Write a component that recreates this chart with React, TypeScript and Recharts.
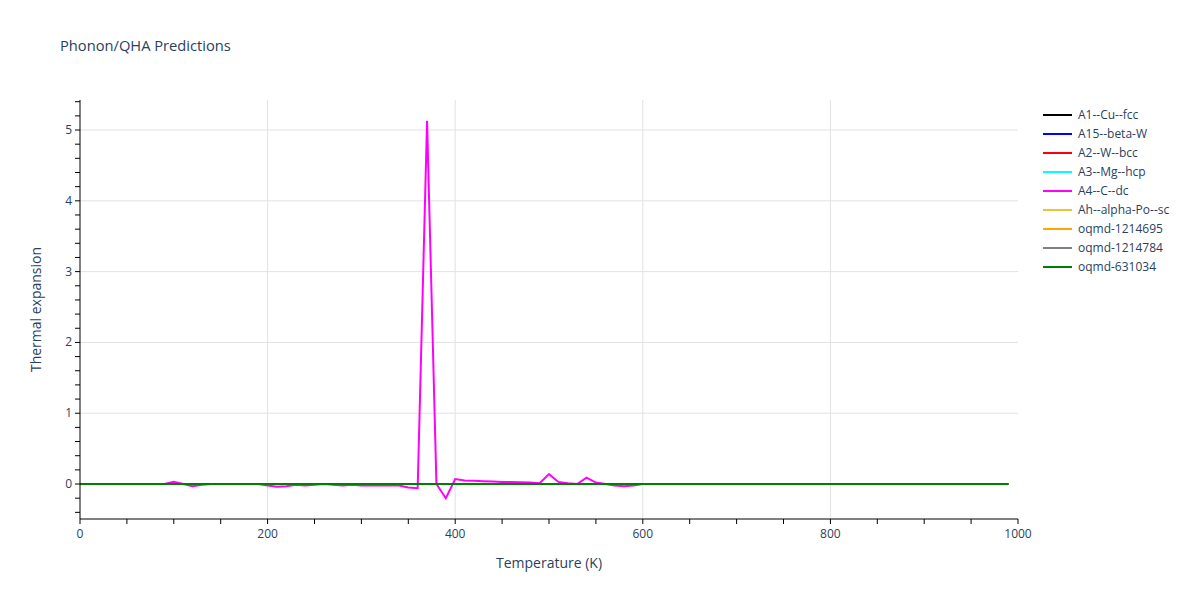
import React from 'react';
import { LineChart, Line, XAxis, YAxis, CartesianGrid } from 'recharts';

// temperature grid (K)
const temps = [
  0, 10, 20, 30, 40, 50, 60, 70, 80, 90,
  100, 110, 120, 130, 140, 150, 160, 170, 180, 190,
  200, 210, 220, 230, 240, 250, 260, 270, 280, 290,
  300, 310, 320, 330, 340, 350, 360, 370, 380, 390,
  400, 410, 420, 430, 440, 450, 460, 470, 480, 490,
  500, 510, 520, 530, 540, 550, 560, 570, 580, 590,
  600, 610, 620, 630, 640, 650, 660, 670, 680, 690,
  700, 710, 720, 730, 740, 750, 760, 770, 780, 790,
  800, 810, 820, 830, 840, 850, 860, 870, 880, 890,
  900, 910, 920, 930, 940, 950, 960, 970, 980, 990,
];

// all structures except A4 sit flat on zero
const flat = [
  0, 0, 0, 0, 0, 0, 0, 0, 0, 0,
  0, 0, 0, 0, 0, 0, 0, 0, 0, 0,
  0, 0, 0, 0, 0, 0, 0, 0, 0, 0,
  0, 0, 0, 0, 0, 0, 0, 0, 0, 0,
  0, 0, 0, 0, 0, 0, 0, 0, 0, 0,
  0, 0, 0, 0, 0, 0, 0, 0, 0, 0,
  0, 0, 0, 0, 0, 0, 0, 0, 0, 0,
  0, 0, 0, 0, 0, 0, 0, 0, 0, 0,
  0, 0, 0, 0, 0, 0, 0, 0, 0, 0,
  0, 0, 0, 0, 0, 0, 0, 0, 0, 0,
];

const a4Values = [
  0, 0, 0, 0, 0, 0, 0, 0, 0, 0,
  0.03, 0, -0.03, -0.01, 0, 0, 0, 0, 0, 0,
  -0.02, -0.04, -0.03, -0.01, -0.02, -0.01, 0, -0.01, -0.02, -0.01,
  -0.02, -0.02, -0.02, -0.02, -0.02, -0.05, -0.06, 5.13, 0, -0.2,
  0.07, 0.05, 0.045, 0.04, 0.035, 0.03, 0.03, 0.025, 0.02, 0.01,
  0.14, 0.03, 0.01, 0, 0.09, 0.02, 0, -0.02, -0.03, -0.02,
  0, 0, 0, 0, 0, 0, 0, 0, 0, 0,
  0, 0, 0, 0, 0, 0, 0, 0, 0, 0,
  0, 0, 0, 0, 0, 0, 0, 0, 0, 0,
  0, 0, 0, 0, 0, 0, 0, 0, 0, 0,
];

const seriesNames = [
  'A1--Cu--fcc',
  'A15--beta-W',
  'A2--W--bcc',
  'A3--Mg--hcp',
  'A4--C--dc',
  'Ah--alpha-Po--sc',
  'oqmd-1214695',
  'oqmd-1214784',
  'oqmd-631034',
];
const seriesColors = [
  '#000000', '#0000ff', '#ff0000', '#00ffff', '#ff00ff',
  '#f0c330', '#ffa500', '#808080', '#008000',
];
const seriesValues = [flat, flat, flat, flat, a4Values, flat, flat, flat, flat];

const xTicks = [0, 50, 100, 150, 200, 250, 300, 350, 400, 450, 500, 550, 600, 650, 700, 750, 800, 850, 900, 950, 1000];
const xLabels = [0, 200, 400, 600, 800, 1000];
const yTicks = [
  -0.4, -0.2, 0, 0.2, 0.4, 0.6, 0.8, 1, 1.2, 1.4, 1.6, 1.8, 2, 2.2, 2.4, 2.6, 2.8,
  3, 3.2, 3.4, 3.6, 3.8, 4, 4.2, 4.4, 4.6, 4.8, 5, 5.2, 5.4,
];
const yLabels = [0, 1, 2, 3, 4, 5];

const chartData = temps.map((t, i) => {
  const row: Record<string, number> = { t };
  seriesNames.forEach((name, s) => {
    row[name] = seriesValues[s][i];
  });
  return row;
});

const FONT = '"Open Sans", verdana, arial, sans-serif';
const TEXT = '#2a3f5f';

const XTick = (props: any) => {
  const { x, y, payload } = props;
  if (!xLabels.includes(payload.value)) return null;
  return (
    <text x={x} y={y + 12} textAnchor="middle" fill={TEXT} fontSize={12} fontFamily={FONT}>
      {payload.value}
    </text>
  );
};

const YTick = (props: any) => {
  const { x, y, payload } = props;
  if (!yLabels.some((v) => Math.abs(v - payload.value) < 1e-9)) return null;
  return (
    <text x={x} y={y + 4} textAnchor="end" fill={TEXT} fontSize={12} fontFamily={FONT}>
      {Math.round(payload.value)}
    </text>
  );
};

const YTitle = (props: any) => {
  const vb = props.viewBox;
  const cx = vb.x + 35;
  const cy = vb.y + vb.height / 2;
  return (
    <text x={cx} y={cy} transform={`rotate(-90 ${cx} ${cy})`} textAnchor="middle" dominantBaseline="central"
      fill={TEXT} fontSize={14} fontFamily={FONT}>
      Thermal expansion
    </text>
  );
};

const XTitle = (props: any) => {
  const vb = props.viewBox;
  return (
    <text x={vb.x + vb.width / 2} y={vb.y + 49} textAnchor="middle" fill={TEXT} fontSize={14} fontFamily={FONT}>
      Temperature (K)
    </text>
  );
};

const LegendBox = () => (
  <div style={{ position: 'absolute', left: 1040, top: 105, fontFamily: FONT, fontSize: 12, color: TEXT }}>
    {seriesNames.map((name, i) => (
      <div key={name} style={{ display: 'flex', alignItems: 'center', height: 19 }}>
        <svg width={36} height={10}>
          <line x1={3} y1={5} x2={32} y2={5} stroke={seriesColors[i]} strokeWidth={2} />
        </svg>
        <span style={{ marginLeft: 2, whiteSpace: 'nowrap' }}>{name}</span>
      </div>
    ))}
  </div>
);

export default function App() {
  return (
    <div style={{ position: 'absolute', left: 0, top: 0, width: 1200, height: 600, background: '#fff' }}>
      <div style={{ position: 'absolute', left: 60, top: 35, fontFamily: FONT, fontSize: 14.7, color: TEXT, whiteSpace: 'nowrap' }}>
        Phonon/QHA Predictions
      </div>
      <LineChart width={1200} height={600} data={chartData} margin={{ top: 100, right: 182, left: 0, bottom: 0 }}>
        <CartesianGrid stroke="#e2e2e2" strokeWidth={1}
          verticalValues={[200, 400, 600, 800]}
          horizontalValues={[1, 2, 3, 4, 5]} />
        <XAxis dataKey="t" type="number" domain={[0, 1000]} ticks={xTicks} interval={0}
          height={81} tickSize={5} tickMargin={2}
          axisLine={{ stroke: '#000' }} tickLine={{ stroke: '#000' }}
          tick={<XTick />} label={<XTitle />} />
        <YAxis type="number" domain={[-0.494, 5.424]} ticks={yTicks} interval={0} allowDataOverflow
          width={80} tickSize={5} tickMargin={3}
          axisLine={{ stroke: '#000' }} tickLine={{ stroke: '#000' }}
          tick={<YTick />} label={<YTitle />} />
        {seriesNames.map((name, i) => (
          <Line key={name} dataKey={name} type="linear" stroke={seriesColors[i]} strokeWidth={2}
            dot={false} activeDot={false} isAnimationActive={false} />
        ))}
      </LineChart>
      <LegendBox />
    </div>
  );
}
